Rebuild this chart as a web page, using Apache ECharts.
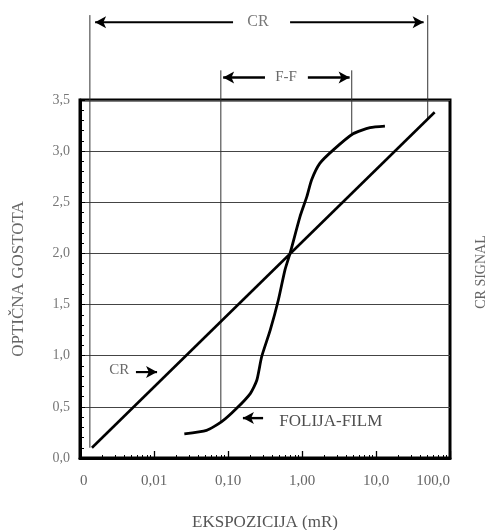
<!DOCTYPE html>
<html><head><meta charset="utf-8">
<script src="https://cdn.jsdelivr.net/npm/echarts@6/dist/echarts.min.js"></script>
<style>html,body{margin:0;padding:0;background:#fff}#c{width:489px;height:530px}</style>
</head><body><div id="c"></div>
<script>
// ---- data ----
const xTickLabels = ['0', '0,01', '0,10', '1,00', '10,0', '100,0'];
const yTickLabels = ['0,0', '0,5', '1,0', '1,5', '2,0', '2,5', '3,0', '3,5'];
const crExposure = [0.00145, 62];
const crSignal = [0.1, 3.38];
const filmExposure = [0.0257, 0.0513, 0.0822, 0.131, 0.2, 0.245, 0.285, 0.372, 0.479, 0.589, 0.689, 0.94, 1.156, 1.35, 1.74, 2.63, 4.9, 8.3, 13.2];
const filmDensity = [0.235, 0.27, 0.355, 0.486, 0.63, 0.76, 0.99, 1.25, 1.545, 1.84, 2.0, 2.36, 2.55, 2.72, 2.88, 3.01, 3.17, 3.23, 3.245];
const crRange = [0.00136, 50];
const crRangeBottom = [0.1, 3.31];
const ffRange = [0.08, 4.7];
const ffRangeBottom = [0.36, 3.17];
const minorTickMultipliers = [2, 3, 4, 5, 6, 7, 8, 9];
const decades = [-3, -2, -1, 0, 1];

const FONT = 'Liberation Serif';
const zip = (a, b) => a.map((v, i) => [v, b[i]]);
const minorTickPositions = [];
decades.forEach(d => minorTickMultipliers.forEach(m => minorTickPositions.push(d + Math.log10(m))));

function vLine(x, yTop, yBottom) {
  return {
    type: 'line', data: [[x, yTop], [x, yBottom]], symbol: 'none', clip: false, silent: true,
    lineStyle: { color: '#333', width: 1 }, z: 1
  };
}
function arrow(x1, x2, y, w) {
  return {
    type: 'line', clip: false, silent: true, z: 4, showSymbol: true,
    symbolSize: [9, 11], itemStyle: { color: '#000' },
    lineStyle: { color: '#000', width: w || 2 },
    data: [
      { value: [x1, y], symbol: 'none' },
      { value: [x2, y], symbol: 'arrow', symbolRotate: x2 < x1 ? 90 : -90 }
    ]
  };
}
function txt(name, x, y, size, color) {
  return {
    name: name, value: [x, y],
    label: { show: true, formatter: '{b}', position: 'inside', fontFamily: FONT, fontSize: size, color: color }
  };
}

const chart = echarts.init(document.getElementById('c'));
chart.setOption({
  animation: false,
  backgroundColor: '#fff',
  grid: {
    left: 80, right: 39, top: 100, bottom: 72, outerBoundsMode: 'none', containLabel: false,
    show: true, borderColor: '#000', borderWidth: 3, backgroundColor: 'transparent'
  },
  xAxis: [{
    type: 'log', logBase: 10, min: 0.001, max: 100, position: 'bottom', gridIndex: 0,
    axisLine: { show: true, onZero: false, lineStyle: { color: '#000', width: 3 } },
    axisTick: { show: true, inside: true, length: 7, lineStyle: { color: '#000', width: 1.3 } },
    splitLine: { show: false },
    axisLabel: {
      margin: 16, fontFamily: FONT, fontSize: 15, color: '#666',
      formatter: (v) => xTickLabels[Math.round(Math.log10(v)) + 3],
      alignMinLabel: 'left', alignMaxLabel: 'right'
    },
    name: 'EKSPOZICIJA (mR)', nameLocation: 'middle', nameGap: 56,
    nameTextStyle: { fontFamily: FONT, fontSize: 17, color: '#555' }
  }, {
    type: 'value', min: -3, max: 2, position: 'bottom', gridIndex: 0,
    axisLine: { show: false, onZero: false }, splitLine: { show: false }, axisLabel: { show: false },
    axisTick: { show: true, inside: true, length: 3, customValues: minorTickPositions, lineStyle: { color: '#000', width: 1 } }
  }],
  yAxis: [{
    type: 'value', min: 0, max: 3.5, interval: 0.5, position: 'left',
    axisLine: { show: true, onZero: false, lineStyle: { color: '#000', width: 3 } },
    axisTick: { show: true, inside: true, length: 5, lineStyle: { color: '#000' } },
    minorTick: { show: true, splitNumber: 5, length: 4, lineStyle: { color: '#000' } },
    splitLine: { show: true, lineStyle: { color: '#444', width: 1 } },
    axisLabel: {
      margin: 10, fontFamily: FONT, fontSize: 14, color: '#777',
      formatter: (v) => yTickLabels[Math.round(v / 0.5)]
    },
    name: 'OPTIČNA GOSTOTA', nameLocation: 'middle', nameGap: 53, nameRotate: 90,
    nameTextStyle: { fontFamily: FONT, fontSize: 17, color: '#666' }
  }, {
    type: 'value', min: 0, max: 3.5, position: 'right',
    axisLine: { show: false, onZero: false }, axisTick: { show: false }, axisLabel: { show: false }, splitLine: { show: false },
    name: 'CR SIGNAL', nameLocation: 'middle', nameGap: 24, nameRotate: 90,
    nameTextStyle: { fontFamily: FONT, fontSize: 14, color: '#666', padding: [0, 0, 0, 14] }
  }],
  series: [
    vLine(crRange[0], 4.33, crRangeBottom[0]),
    vLine(crRange[1], 4.33, crRangeBottom[1]),
    vLine(ffRange[0], 3.79, ffRangeBottom[0]),
    vLine(ffRange[1], 3.79, ffRangeBottom[1]),
    {
      type: 'line', name: 'CR', data: zip(crExposure, crSignal), symbol: 'none',
      lineStyle: { color: '#000', width: 2.6 }, z: 3
    },
    {
      type: 'line', name: 'FOLIJA-FILM', data: zip(filmExposure, filmDensity), symbol: 'none', smooth: 0.2,
      lineStyle: { color: '#000', width: 2.8 }, z: 3
    },
    arrow(0.117, 0.0016, 4.26, 2),
    arrow(0.69, 44, 4.26, 2),
    arrow(0.316, 0.086, 3.72, 2.4),
    arrow(1.2, 4.4, 3.72, 2.4),
    arrow(0.0057, 0.011, 0.84, 2.2),
    arrow(0.298, 0.159, 0.39, 2.4),
    {
      type: 'scatter', clip: false, symbolSize: 0, silent: true, z: 5,
      data: [
        txt('CR', 0.254, 4.26, 16, '#555'),
        txt('F-F', 0.61, 3.72, 15, '#444'),
        txt('CR', 0.0034, 0.86, 15, '#444'),
        txt('FOLIJA-FILM', 2.45, 0.36, 17, '#222')
      ]
    }
  ]
});
</script></body></html>
